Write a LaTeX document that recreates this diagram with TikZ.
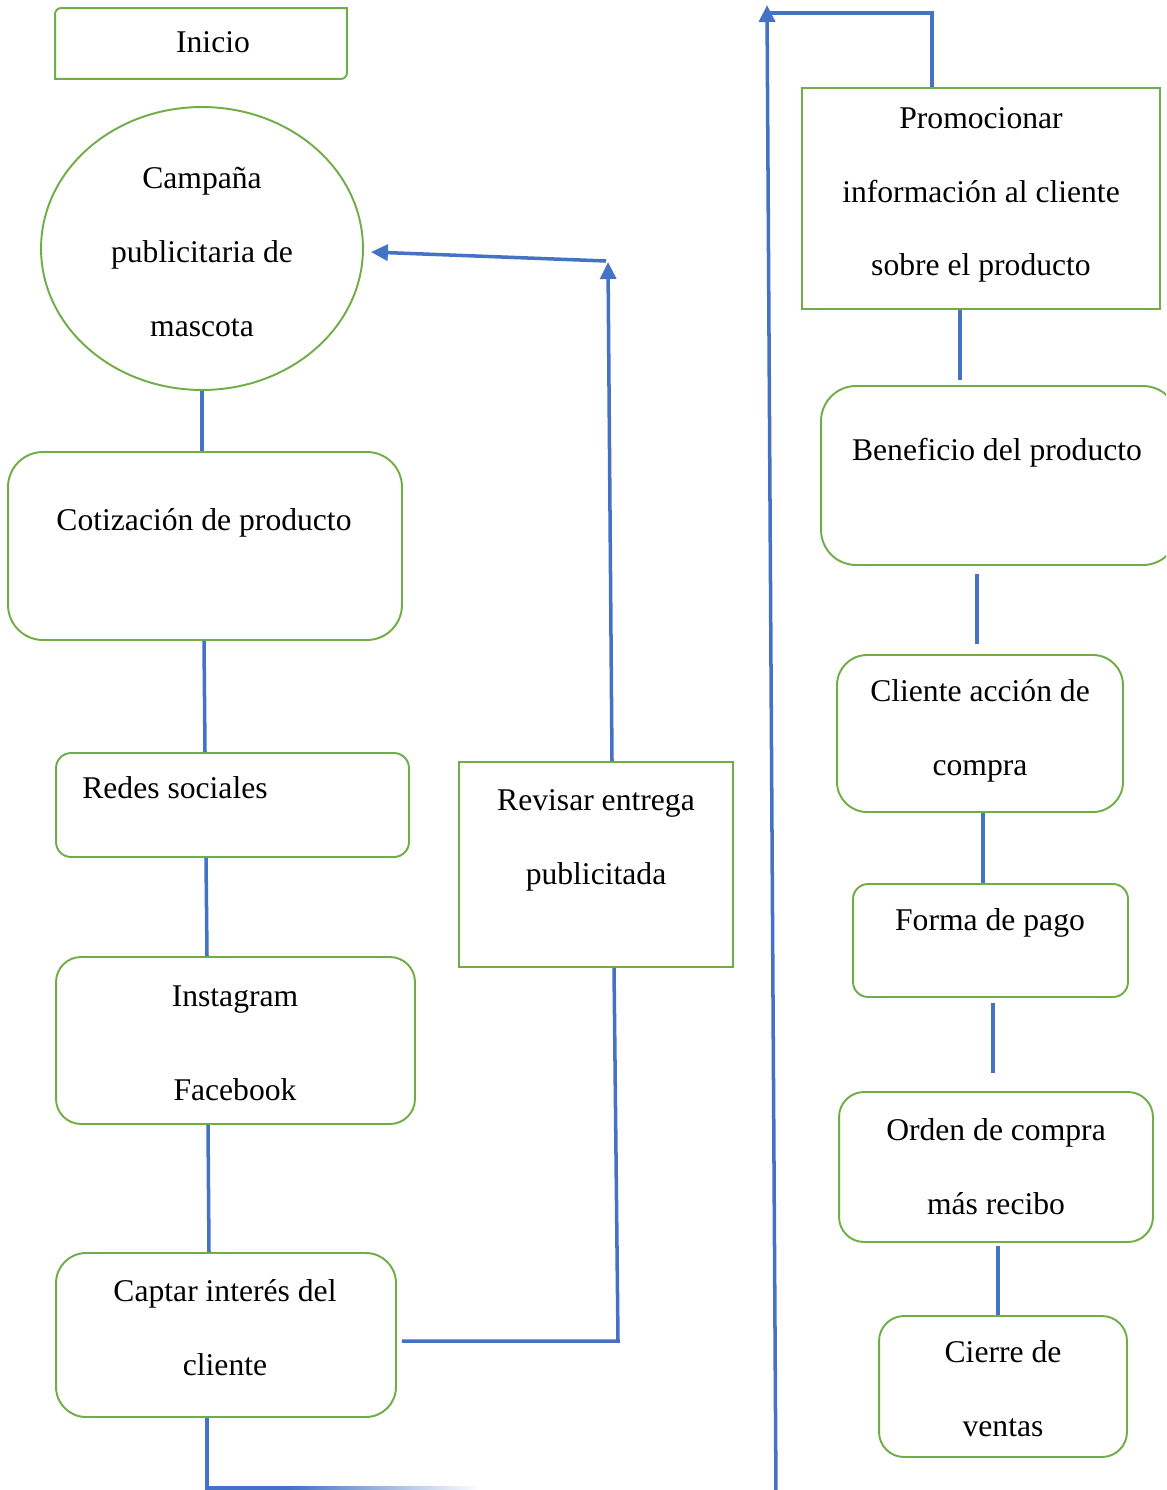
\documentclass[tikz,border=0pt]{standalone}
\usepackage{fontspec}
\setmainfont{Liberation Serif}
\usetikzlibrary{shapes.geometric,arrows.meta}
\definecolor{boxgreen}{HTML}{70AD47}
\definecolor{lineblue}{HTML}{4472C4}

\begin{document}
\begin{tikzpicture}[x=0.02cm, y=-0.02cm]
\tikzset{box/.style = {draw=boxgreen, line width=1.1pt, rectangle, inner sep=0pt}}
\tikzset{txt/.style = {align=center, font=\fontsize{18}{42}\selectfont, inner sep=0pt}}
\tikzset{link/.style = {draw=lineblue, line width=2pt}}
\tikzset{edge/.style = {link, ->, > = {Triangle[length=0.34cm, width=0.32cm]}}}

\useasboundingbox (0,0) rectangle (1166,1490);
\clip (0,0) rectangle (1166,1490);

% left column
\node[box, draw=none, minimum width=5.8cm, minimum height=1.38cm] (inicio) at (201,43.5) {};
\draw[boxgreen, line width=1.1pt] (inicio.north east) -- ([yshift=0.12cm]inicio.south east)
  arc[start angle=0, end angle=-90, radius=0.12cm] -- (inicio.south west)
  -- ([yshift=-0.12cm]inicio.north west) arc[start angle=180, end angle=90, radius=0.12cm] -- cycle;
\node[box, ellipse, minimum width=6.44cm, minimum height=5.66cm] (campana) at (202,248.5) {};
\node[box, rounded corners=0.7cm, minimum width=7.88cm, minimum height=3.76cm] (cotiz) at (205,546) {};
\node[box, rounded corners=0.3cm, minimum width=7.06cm, minimum height=2.08cm] (redes) at (232.5,805) {};
\node[box, rounded corners=0.5cm, minimum width=7.18cm, minimum height=3.34cm] (insta) at (235.5,1040.5) {};
\node[box, rounded corners=0.6cm, minimum width=6.8cm, minimum height=3.28cm] (captar) at (226,1335) {};
\node[box, minimum width=5.48cm, minimum height=4.1cm] (revisar) at (596,864.5) {};

\node[txt] (tinicio) at (213,42) {Inicio};
\node[txt] (tcampana) at (202,252) {Campaña\\publicitaria de\\mascota};
\node[txt] (tcotiz) at (204,523) {Cotización de producto};
\node[txt] (tredes) at (175,788) {Redes sociales};
\node[txt] (tinsta) at (235,1043) {Instagram\\[0.4cm]Facebook};
\node[txt] (tcaptar) at (225,1328) {Captar interés del\\cliente};
\node[txt] (trevisar) at (596,840) {Revisar entrega\\publicitada};

% right column
\node[box, minimum width=7.16cm, minimum height=4.42cm] (promo) at (981,198.5) {};
\node[box, rounded corners=0.7cm, minimum width=7.14cm, minimum height=3.58cm] (benef) at (999.5,475.5) {};
\node[box, rounded corners=0.6cm, minimum width=5.72cm, minimum height=3.14cm] (cliente) at (980,733.5) {};
\node[box, rounded corners=0.3cm, minimum width=5.5cm, minimum height=2.26cm] (forma) at (990.5,940.5) {};
\node[box, rounded corners=0.5cm, minimum width=6.28cm, minimum height=3cm] (orden) at (996,1167) {};
\node[box, rounded corners=0.5cm, minimum width=4.96cm, minimum height=2.82cm] (cierre) at (1003,1386.5) {};

\node[txt] (tpromo) at (981,195) {Promocionar\\información al cliente\\sobre el producto};
\node[txt] (tbenef) at (997,453) {Beneficio del producto};
\node[txt] (tcliente) at (980,731) {Cliente acción de\\compra};
\node[txt] (tforma) at (990,923) {Forma de pago};
\node[txt] (torden) at (996,1167) {Orden de compra\\más recibo};
\node[txt] (tcierre) at (1003,1389) {Cierre de\\ventas};

% connectors, left
\draw[link] (campana.south) -- (campana.south |- cotiz.north);
\draw[link] (cotiz.south -| 204,0) -- (redes.north -| 205,0);
\draw[link] (redes.south -| 206,0) -- (insta.north -| 207,0);
\draw[link] (insta.south -| 208,0) -- (captar.north -| 209,0);
\draw[link] ([xshift=0.1cm,yshift=-0.12cm]captar.east) -- (618,1341) -- (revisar.south -| 614,0);
\coordinate (turn) at (608,262);
\draw[edge] (revisar.north -| 612,0) -- (turn);
\draw[edge] (606,261) -- ([xshift=0.14cm,yshift=-0.07cm]campana.east);
\coordinate (corner) at (207,1488);
\coordinate (fadestart) at (290,1488);
\draw[link] (captar.south -| 207,0) -- (corner) -- (fadestart);
\shade[left color=lineblue, right color=white] (290,1486) rectangle (480,1490);

% connectors, right
\coordinate (longbot) at (776,1495);
\coordinate (longtop) at (767,5);
\draw[edge] (longbot) -- (longtop);
\draw[link] (promo.north -| 932,0) -- (932,13) -- (767,13);
\draw[link, shorten >=0.1cm] (promo.south -| 960,0) -- (benef.north -| 960,0);
\draw[link, shorten <=0.16cm, shorten >=0.2cm] (benef.south -| 977,0) -- (cliente.north -| 977,0);
\draw[link] (cliente.south -| 983,0) -- (forma.north -| 983,0);
\draw[link, shorten <=0.1cm, shorten >=0.36cm] (forma.south -| 993,0) -- (orden.north -| 993,0);
\draw[link, shorten <=0.06cm] (orden.south -| 998,0) -- (cierre.north -| 998,0);

\end{tikzpicture}
\end{document}
